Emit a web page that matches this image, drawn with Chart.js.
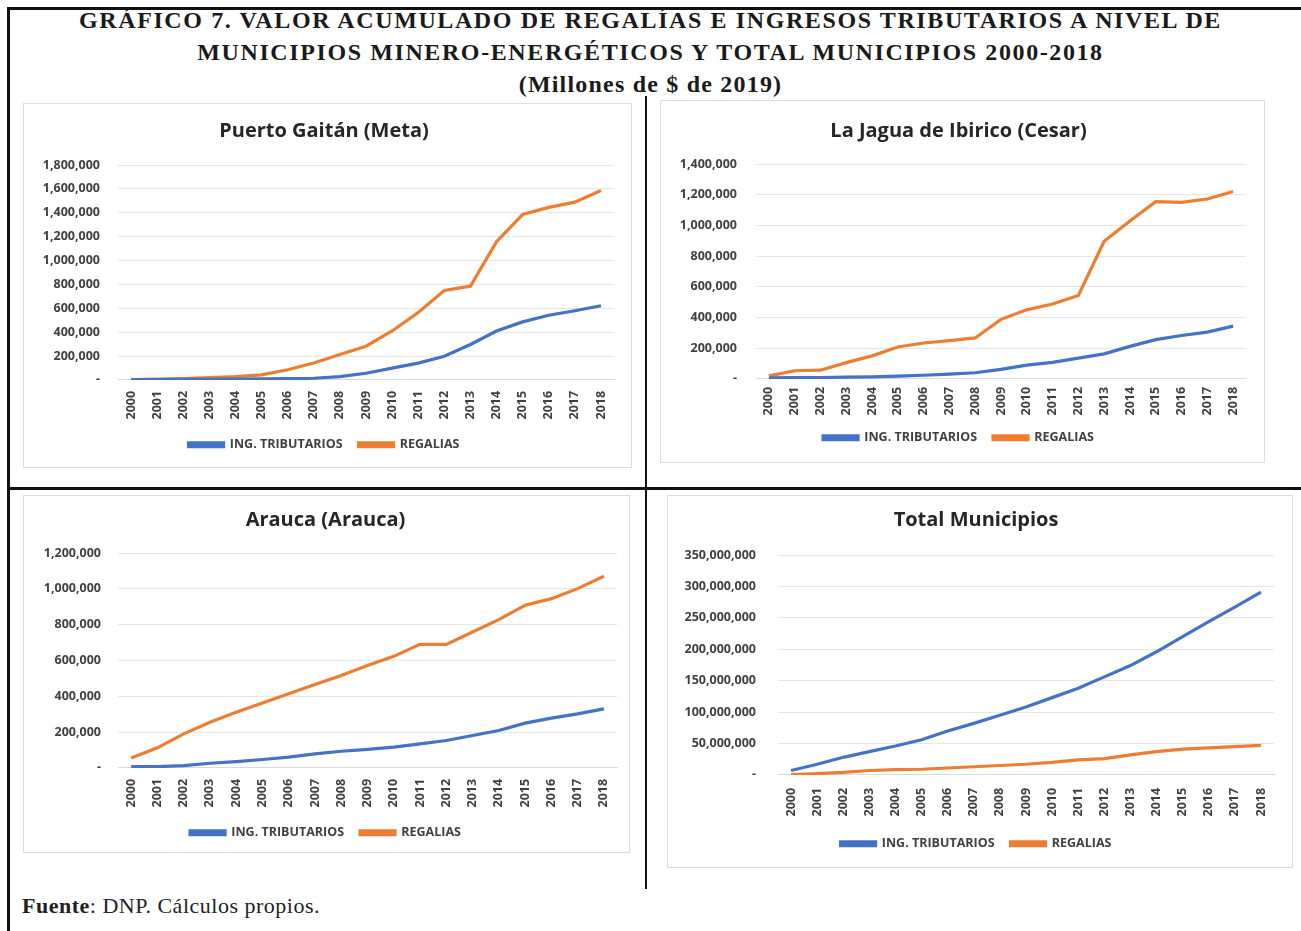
<!DOCTYPE html>
<html>
<head>
<meta charset="utf-8">
<script src="https://cdn.jsdelivr.net/npm/chart.js@4.4.1/dist/chart.umd.min.js"></script>
<style>
  html, body { margin:0; padding:0; background:#fff; }
  body { width:1301px; height:931px; position:relative; overflow:hidden; font-family:"Liberation Serif", serif; }
  .line { position:absolute; background:#111; }
  .title { position:absolute; left:0; width:1301px; text-align:center; font-weight:bold; color:#1a1a1a; font-family:"Liberation Serif", serif; white-space:nowrap; font-size:24px; letter-spacing:1.6px; }
  .panel { position:absolute; border:1px solid #dcdcdc; box-sizing:border-box; background:#fff; }
  .panel canvas { position:absolute; left:0; top:0; }
  .fuente { position:absolute; left:22px; top:893px; font-size:22px; color:#222; font-family:"Liberation Serif", serif; letter-spacing:0.5px; }
</style>
</head>
<body>
<div class="line" style="left:8px; top:7px; width:1293px; height:3px;"></div>
<div class="line" style="left:7px; top:7px; width:3px; height:924px;"></div>
<div class="line" style="left:645px; top:96px; width:2px; height:793px;"></div>
<div class="line" style="left:8px; top:487px; width:1293px; height:3px;"></div>

<div class="title" style="top:7px;">GRÁFICO 7. VALOR ACUMULADO DE REGALÍAS E INGRESOS TRIBUTARIOS A NIVEL DE</div>
<div class="title" style="top:39px;">MUNICIPIOS MINERO-ENERGÉTICOS Y TOTAL MUNICIPIOS 2000-2018</div>
<div class="title" style="top:71px; letter-spacing:1.2px;">(Millones de $ de 2019)</div>

<div class="panel" style="left:23px; top:103px; width:609px; height:365px;"><canvas id="c1" width="607" height="363"></canvas></div>
<div class="panel" style="left:660px; top:100px; width:605px; height:363px;"><canvas id="c2" width="603" height="361"></canvas></div>
<div class="panel" style="left:23px; top:495px; width:607px; height:358px;"><canvas id="c3" width="605" height="356"></canvas></div>
<div class="panel" style="left:667px; top:495px; width:626px; height:373px;"><canvas id="c4" width="624" height="371"></canvas></div>

<div class="fuente"><b>Fuente</b>: DNP. Cálculos propios.</div>

<script>
// ---- Data (millones de $ de 2019) ----
const years = ["2000","2001","2002","2003","2004","2005","2006","2007","2008","2009","2010","2011","2012","2013","2014","2015","2016","2017","2018"];
const seriesNames = ["ING. TRIBUTARIOS", "REGALIAS"];

const puertoTrib = [2000,3000,4000,5000,6000,8000,10000,14000,28000,56000,99000,141000,198000,297000,410000,486000,542000,579000,621000];
const puertoReg  = [2000,6000,12000,20000,28000,42000,85000,141000,212000,282000,410000,565000,749000,785000,1158000,1385000,1445000,1489000,1587000];

const jaguaTrib = [7000,9000,9000,11000,13000,18000,24000,31000,40000,62000,90000,108000,135000,163000,212000,256000,283000,305000,344000];
const jaguaReg  = [20000,53000,57000,106000,150000,208000,234000,249000,267000,388000,450000,488000,543000,896000,1029000,1155000,1150000,1172000,1221000];

const araucaTrib = [7000,7000,13000,26000,35000,47000,60000,78000,93000,103000,116000,134000,153000,181000,209000,250000,278000,302000,330000];
const araucaReg  = [56000,112000,190000,255000,311000,362000,414000,466000,516000,572000,623000,690000,690000,759000,828000,908000,945000,1001000,1070000];

const totalTrib = [7000000,17000000,28000000,37000000,46000000,56000000,70000000,82000000,95000000,108000000,123000000,138000000,156000000,174000000,196000000,220000000,244000000,267000000,291000000];
const totalReg  = [500000,2000000,4000000,7000000,8500000,9000000,11000000,13000000,15000000,17000000,20000000,24000000,26000000,32000000,37000000,41000000,43000000,45000000,47000000];

const titles = ["Puerto Gaitán (Meta)", "La Jagua de Ibirico (Cesar)", "Arauca (Arauca)", "Total Municipios"];
const yMax  = [1800000, 1400000, 1200000, 350000000];
const yStep = [200000, 200000, 200000, 50000000];

const BLUE = "#4472C4", ORANGE = "#ED7D31";
const FONT = "'Open Sans', 'Liberation Sans', sans-serif";

function fmt(v){ return v === 0 ? "-" : Number(v).toLocaleString("en-US"); }

function make(id, title, trib, reg, max, step, cfg){
  new Chart(document.getElementById(id), {
    type: "line",
    data: {
      labels: years,
      datasets: [
        { label: seriesNames[0], data: trib, borderColor: BLUE, backgroundColor: BLUE, borderWidth: 3.2, pointRadius: 0, tension: 0 },
        { label: seriesNames[1], data: reg, borderColor: ORANGE, backgroundColor: ORANGE, borderWidth: 3.2, pointRadius: 0, tension: 0 }
      ]
    },
    options: {
      responsive: false,
      animation: false,
      devicePixelRatio: 1,
      layout: { padding: { left: cfg.padL, right: cfg.padR, top: 0, bottom: cfg.padB } },
      plugins: {
        title: { display: true, text: title, color: "#262626", font: { family: FONT, size: 20, weight: "bold" }, padding: cfg.titlePad },
        legend: { position: "bottom", labels: { boxWidth: 35, boxHeight: 4, color: "#404040", font: { family: FONT, size: 12.5, weight: "bold" }, padding: 16 } },
        tooltip: { enabled: false }
      },
      scales: {
        x: {
          offset: true,
          grid: { display: false },
          border: { display: true, color: "#d9d9d9" },
          ticks: { minRotation: 90, maxRotation: 90, autoSkip: false, color: "#404040", font: { family: FONT, size: 12.5, weight: "bold" }, padding: cfg.xPad }
        },
        y: {
          min: 0, max: max,
          grid: { color: "#e6e6e6", drawTicks: false },
          border: { display: false },
          ticks: { stepSize: step, color: "#404040", font: { family: FONT, size: 12.5, weight: "bold" }, padding: cfg.yPad, callback: fmt },
          afterFit: function(s){ s.width = cfg.yWidth; }
        }
      }
    }
  });
}

make("c1", titles[0], puertoTrib, puertoReg, yMax[0], yStep[0], { yWidth: 84, padL: 10, padR: 17, padB: 6, titlePad: {top: 15, bottom: 22}, xPad: 3, yPad: 18 });
make("c2", titles[1], jaguaTrib, jaguaReg, yMax[1], yStep[1], { yWidth: 85, padL: 10, padR: 18, padB: 8, titlePad: {top: 18, bottom: 21}, xPad: 0, yPad: 19 });
make("c3", titles[2], araucaTrib, araucaReg, yMax[2], yStep[2], { yWidth: 84, padL: 10, padR: 12, padB: 3, titlePad: {top: 12, bottom: 21}, xPad: 3, yPad: 17 });
make("c4", titles[3], totalTrib, totalReg, yMax[3], yStep[3], { yWidth: 100, padL: 10, padR: 18, padB: 7, titlePad: {top: 12, bottom: 23}, xPad: 5, yPad: 22 });
</script>
</body>
</html>
